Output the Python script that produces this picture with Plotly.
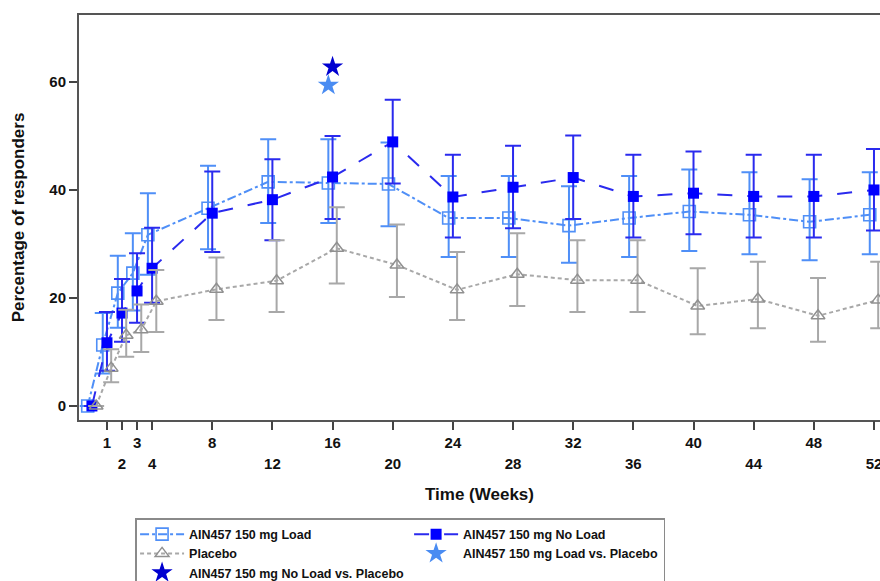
import plotly.graph_objects as go

# ---- data ----
weeks = [0, 1, 2, 3, 4, 8, 12, 16, 20, 24, 28, 32, 36, 40, 44, 48, 52]

load = [0, 11.3, 20.9, 24.6, 31.7, 36.6, 41.5, 41.3, 41.1, 34.8, 34.8, 33.4, 34.8, 36.0, 35.4, 34.1, 35.4]
load_hi = [0, 17.2, 27.8, 32.0, 39.4, 44.5, 49.4, 49.4, 48.8, 42.6, 42.6, 40.7, 42.6, 43.8, 43.3, 42.0, 43.3]
load_lo = [0, 6.0, 14.5, 17.7, 24.3, 29.0, 33.9, 33.9, 33.3, 27.6, 27.6, 26.5, 27.6, 28.7, 28.1, 27.0, 28.1]

noload = [0, 11.7, 17.2, 21.3, 25.5, 35.7, 38.2, 42.4, 48.9, 38.7, 40.5, 42.3, 38.8, 39.4, 38.8, 38.8, 40.0]
noload_hi = [0, 17.4, 23.5, 28.3, 33.0, 43.4, 45.7, 50.0, 56.7, 46.5, 48.2, 50.1, 46.5, 47.1, 46.5, 46.5, 47.6]
noload_lo = [0, 6.5, 11.9, 15.4, 19.1, 28.5, 30.7, 34.6, 41.2, 31.2, 32.9, 34.6, 31.2, 31.8, 31.2, 31.2, 32.5]

placebo = [0, 7.0, 13.1, 14.1, 19.4, 21.6, 23.2, 29.2, 26.1, 21.5, 24.4, 23.3, 23.3, 18.5, 19.8, 16.7, 19.6]
placebo_hi = [0, 10.5, 17.8, 18.8, 25.2, 27.5, 30.7, 36.8, 33.6, 28.5, 32.0, 30.7, 30.7, 25.5, 26.7, 23.7, 26.7]
placebo_lo = [0, 4.4, 9.1, 10.0, 13.7, 15.9, 17.4, 22.7, 20.2, 15.9, 18.5, 17.4, 17.4, 13.3, 14.4, 11.9, 14.4]

star_week = [16]
load_vs_pbo = [59.4]
noload_vs_pbo = [62.8]

upper_ticks = [1, 3, 8, 16, 24, 32, 40, 48]
lower_ticks = [2, 4, 12, 20, 28, 36, 44, 52]

names = ["AIN457 150 mg Load", "AIN457 150 mg No Load", "Placebo",
         "AIN457 150 mg Load vs. Placebo", "AIN457 150 mg No Load vs. Placebo"]

# ---- styling ----
C_LOAD = "#4f8ff7"
C_NOLOAD_LINE = "#2a2aee"
C_NOLOAD_MK = "#0000ff"
C_PBO = "#a8a8a8"
C_STAR_LOAD = "#4a8cf2"
C_STAR_NOLOAD = "#0000d0"
DODGE = 0.28
FONT = "Liberation Sans, Arial, sans-serif"
TXT = "#111111"


def shift(xs, d):
    return [x + d for x in xs]


def err(v, hi, lo, color):
    return dict(type="data", symmetric=False,
                array=[h - m for h, m in zip(hi, v)],
                arrayminus=[m - l for m, l in zip(v, lo)],
                color=color, thickness=2, width=8)


fig = go.Figure()

fig.add_trace(go.Scatter(
    x=shift(weeks, -DODGE), y=load, name=names[0], mode="lines+markers", legendgroup="a",
    line=dict(color=C_LOAD, width=2, dash="dashdot"),
    marker=dict(symbol="square-open", size=12, color=C_LOAD, line=dict(width=1.6, color=C_LOAD)),
    error_y=err(load, load_hi, load_lo, C_LOAD)))

fig.add_trace(go.Scatter(
    x=weeks, y=noload, name=names[1], mode="lines+markers", legendgroup="b",
    line=dict(color=C_NOLOAD_LINE, width=2, dash="longdash"),
    marker=dict(symbol="square", size=11, color=C_NOLOAD_MK, line=dict(width=0)),
    error_y=err(noload, noload_hi, noload_lo, C_NOLOAD_LINE)))

fig.add_trace(go.Scatter(
    x=shift(weeks, DODGE), y=placebo, name=names[2], mode="lines+markers", legendgroup="a",
    line=dict(color=C_PBO, width=2, dash="4px,3px"),
    marker=dict(symbol="triangle-up-open", size=12, color="#909090", line=dict(width=1.5, color="#909090")),
    error_y=err(placebo, placebo_hi, placebo_lo, C_PBO)))

fig.add_trace(go.Scatter(
    x=shift(star_week, -DODGE), y=load_vs_pbo, name=names[3], mode="markers", legendgroup="b",
    marker=dict(symbol="star", size=16, color=C_STAR_LOAD, line=dict(width=0))))

fig.add_trace(go.Scatter(
    x=star_week, y=noload_vs_pbo, name=names[4], mode="markers", legendgroup="a",
    marker=dict(symbol="star", size=16, color=C_STAR_NOLOAD, line=dict(width=0))))

# dummy trace so the second (label-only) x axis exists
fig.add_trace(go.Scatter(x=[lower_ticks[0]], y=[None], xaxis="x2", yaxis="y",
                         showlegend=False, hoverinfo="skip", mode="markers"))

XR = [-0.86, 52.4]
all_ticks = sorted(upper_ticks + lower_ticks)
tick_font = dict(family=FONT, size=15, color=TXT, weight="bold")

fig.update_layout(
    width=880, height=581,
    margin=dict(l=79, r=0, t=15, b=161, autoexpand=False),
    paper_bgcolor="white", plot_bgcolor="white",
    font=dict(family=FONT, color=TXT),
    showlegend=True,
    xaxis=dict(
        range=XR, tickmode="array", tickvals=all_ticks,
        ticktext=[str(t) if t in upper_ticks else "" for t in all_ticks],
        ticks="outside", ticklen=8, tickwidth=2, tickcolor="#444444",
        showline=True, linecolor="#555555", linewidth=2, mirror=True,
        showgrid=False, zeroline=False, tickfont=tick_font, automargin=False,
        ticklabeloverflow="allow",
        title=dict(text="Time (Weeks)", font=dict(family=FONT, size=17, color=TXT, weight="bold"),
                   standoff=38),
    ),
    xaxis2=dict(
        range=XR, overlaying="x", anchor="y", side="bottom",
        tickmode="array", tickvals=lower_ticks, ticktext=[str(t) for t in lower_ticks],
        ticks="outside", ticklen=8, tickwidth=2, tickcolor="#444444",
        ticklabelstandoff=22, ticklabeloverflow="allow",
        showline=False, showgrid=False, zeroline=False, tickfont=tick_font, automargin=False,
    ),
    yaxis=dict(
        range=[-2.6, 72.4], tickmode="array", tickvals=[0, 20, 40, 60],
        ticks="outside", ticklen=8, tickwidth=2, tickcolor="#444444",
        showline=True, linecolor="#555555", linewidth=2, mirror=True,
        showgrid=False, zeroline=False, tickfont=tick_font, automargin=False,
        title=dict(text="Percentage of responders", font=dict(family=FONT, size=17, color=TXT, weight="bold"),
                   standoff=20),
    ),
    legend=dict(
        orientation="h", traceorder="grouped", x=0.07, xanchor="left", y=-0.242, yanchor="top",
        bgcolor="white", bordercolor="#8a8a8a", borderwidth=1.5,
        font=dict(family=FONT, size=12.5, color=TXT, weight="bold"),
        tracegroupgap=10, itemwidth=44,
    ),
)

fig.write_html("out.html", config={"displayModeBar": False},
               post_script="document.body.style.margin='0';document.body.style.padding='0';")
